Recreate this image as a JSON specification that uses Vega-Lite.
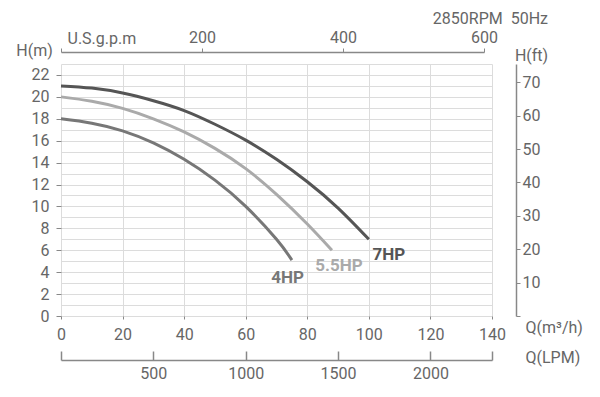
{
  "$schema": "https://vega.github.io/schema/vega-lite/v6.json",
  "width": 431,
  "height": 252,
  "autosize": "none",
  "padding": {"left": 61, "top": 64, "right": 108, "bottom": 81},
  "title": {"text": "2850RPM\u00a0\u00a050Hz", "anchor": "end", "frame": "group", "orient": "top", "offset": 2, "dx": 56, "fontSize": 16, "font": "Roboto", "fontWeight": "normal", "color": "#666"},
  "config": {
    "font": "Roboto",
    "view": {"stroke": null},
    "axis": {"labelFont": "Roboto", "labelFontSize": 16, "labelColor": "#666", "titleFont": "Roboto", "titleFontSize": 16, "titleColor": "#666", "titleFontWeight": "normal", "domainColor": "#888", "tickColor": "#888", "gridColor": "#dcdcdc", "labelFlush": false, "labelOverlap": false}
  },
  "datasets": {
    "curves": [
      {"model": "7HP", "q": 0, "h": 21.0}, {"model": "7HP", "q": 10, "h": 20.8}, {"model": "7HP", "q": 20, "h": 20.35}, {"model": "7HP", "q": 30, "h": 19.65}, {"model": "7HP", "q": 40, "h": 18.75}, {"model": "7HP", "q": 50, "h": 17.5}, {"model": "7HP", "q": 60, "h": 16.05}, {"model": "7HP", "q": 70, "h": 14.3}, {"model": "7HP", "q": 80, "h": 12.25}, {"model": "7HP", "q": 90, "h": 9.85}, {"model": "7HP", "q": 100, "h": 7.0},
      {"model": "5.5HP", "q": 0, "h": 20.0}, {"model": "5.5HP", "q": 10, "h": 19.6}, {"model": "5.5HP", "q": 20, "h": 18.95}, {"model": "5.5HP", "q": 30, "h": 18.0}, {"model": "5.5HP", "q": 40, "h": 16.8}, {"model": "5.5HP", "q": 50, "h": 15.3}, {"model": "5.5HP", "q": 60, "h": 13.45}, {"model": "5.5HP", "q": 70, "h": 11.1}, {"model": "5.5HP", "q": 80, "h": 8.4}, {"model": "5.5HP", "q": 88, "h": 6.0},
      {"model": "4HP", "q": 0, "h": 18.0}, {"model": "4HP", "q": 10, "h": 17.6}, {"model": "4HP", "q": 20, "h": 16.9}, {"model": "4HP", "q": 30, "h": 15.8}, {"model": "4HP", "q": 40, "h": 14.3}, {"model": "4HP", "q": 50, "h": 12.4}, {"model": "4HP", "q": 60, "h": 10.0}, {"model": "4HP", "q": 70, "h": 7.0}, {"model": "4HP", "q": 75, "h": 5.1}
    ],
    "labels": [
      {"model": "7HP", "q": 106.5, "h": 5.6},
      {"model": "5.5HP", "q": 90.3, "h": 4.6},
      {"model": "4HP", "q": 73.6, "h": 3.5}
    ]
  },
  "layer": [
    {
      "layer": [
        {
          "data": {"name": "curves"},
          "mark": {"type": "line", "interpolate": "natural", "strokeWidth": 3, "strokeCap": "butt"},
          "encoding": {
            "x": {"field": "q", "type": "quantitative", "scale": {"domain": [0, 140], "nice": false},
              "axis": {"orient": "bottom", "values": [0, 20, 40, 60, 80, 100, 120, 140], "grid": true, "domain": false, "tickSize": 3, "labelPadding": 7,
                "title": "Q(m³/h)", "titleX": 464, "titleY": 11, "titleAlign": "left", "titleBaseline": "middle", "titleAngle": 0}},
            "y": {"field": "h", "type": "quantitative", "scale": {"domain": [0, 23], "nice": false},
              "axis": {"orient": "left", "values": [0,1,2,3,4,5,6,7,8,9,10,11,12,13,14,15,16,17,18,19,20,21,22,23], "grid": true, "domain": false, "tickSize": 5, "labelPadding": 7,
                "labelExpr": "datum.value % 2 == 0 && datum.value <= 22 ? datum.label : ''",
                "tickOpacity": {"condition": {"test": "datum.value % 2 == 0 && datum.value <= 22", "value": 1}, "value": 0},
                "title": "H(m)", "titleAngle": 0, "titleX": -27, "titleY": -14, "titleAlign": "center", "titleBaseline": "middle"}},
            "color": {"field": "model", "type": "nominal", "scale": {"domain": ["4HP", "5.5HP", "7HP"], "range": ["#777777", "#aaaaaa", "#555555"]}, "legend": null}
          }
        },
        {
          "data": {"name": "labels"},
          "mark": {"type": "text", "fontSize": 17, "fontWeight": "bold", "font": "Roboto", "align": "center", "baseline": "middle"},
          "encoding": {
            "x": {"field": "q", "type": "quantitative", "scale": {"domain": [0, 140], "nice": false},
              "axis": {"orient": "bottom", "values": [0, 20, 40, 60, 80, 100, 120, 140], "grid": true, "domain": false, "tickSize": 3, "labelPadding": 7,
                "title": "Q(m³/h)", "titleX": 464, "titleY": 11, "titleAlign": "left", "titleBaseline": "middle", "titleAngle": 0}},
            "y": {"field": "h", "type": "quantitative", "scale": {"domain": [0, 23], "nice": false},
              "axis": {"orient": "left", "values": [0,1,2,3,4,5,6,7,8,9,10,11,12,13,14,15,16,17,18,19,20,21,22,23], "grid": true, "domain": false, "tickSize": 5, "labelPadding": 7,
                "labelExpr": "datum.value % 2 == 0 && datum.value <= 22 ? datum.label : ''",
                "tickOpacity": {"condition": {"test": "datum.value % 2 == 0 && datum.value <= 22", "value": 1}, "value": 0},
                "title": "H(m)", "titleAngle": 0, "titleX": -27, "titleY": -14, "titleAlign": "center", "titleBaseline": "middle"}},
            "text": {"field": "model"},
            "color": {"field": "model", "type": "nominal", "legend": null}
          }
        }
      ]
    },
    {
      "data": {"values": [{"g": 0}, {"g": 600}]},
      "mark": {"type": "point", "opacity": 0},
      "encoding": {
        "x": {"field": "g", "type": "quantitative", "scale": {"domain": [0, 600], "range": [0, 423], "nice": false},
          "axis": {"orient": "top", "offset": 12, "values": [0, 200, 400, 600], "grid": false, "tickSize": 4, "labelPadding": 3, "domainWidth": 1.5,
            "labelExpr": "datum.value == 0 ? '' : datum.label",
            "title": "U.S.g.p.m", "titleX": 6, "titleY": -14, "titleAlign": "left", "titleBaseline": "middle", "titleAngle": 0}}
      }
    },
    {
      "data": {"values": [{"l": 0}, {"l": 2333.33}]},
      "mark": {"type": "point", "opacity": 0},
      "encoding": {
        "x": {"field": "l", "type": "quantitative", "scale": {"domain": [0, 2333.33], "nice": false},
          "axis": {"orient": "bottom", "offset": 44, "values": [0, 500, 1000, 1500, 2000, 2333.33], "format": "d", "grid": false, "tickSize": -9, "labelPadding": 14, "domainWidth": 1.5, "tickWidth": 1.5,
            "labelExpr": "datum.value == 0 || datum.value > 2100 ? '' : datum.label",
            "title": "Q(LPM)", "titleX": 464, "titleY": -3, "titleAlign": "left", "titleBaseline": "middle", "titleAngle": 0}}
      }
    },
    {
      "data": {"values": [{"f": 0}, {"f": 75.46}]},
      "mark": {"type": "point", "opacity": 0},
      "encoding": {
        "y": {"field": "f", "type": "quantitative", "scale": {"domain": [0, 75.46], "nice": false},
          "axis": {"orient": "right", "offset": 24, "values": [0, 10, 20, 30, 40, 50, 60, 70], "grid": false, "tickSize": 4, "labelPadding": 2, "domainWidth": 1.5,
            "labelExpr": "datum.value == 0 ? '' : datum.label",
            "title": "H(ft)", "titleX": 15, "titleY": -9, "titleAlign": "center", "titleBaseline": "middle", "titleAngle": 0}}
      }
    }
  ],
  "resolve": {"scale": {"x": "independent", "y": "independent"}}
}
